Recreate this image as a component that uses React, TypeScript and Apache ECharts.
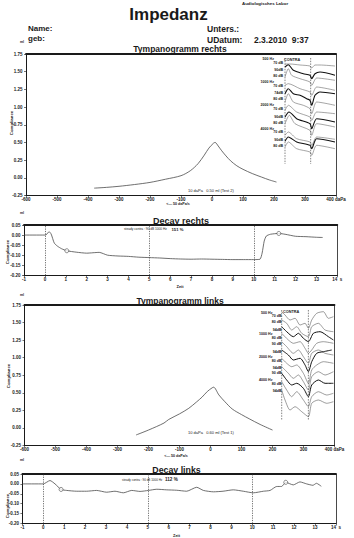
import React, { useEffect, useRef } from "react";
import * as echarts from "echarts";

// ---------- DATA ----------
// Tympanogram curves: [pressure daPa, compliance ml]
const tympRechts: [number, number][] = [
  [-380, -0.146], [-340, -0.135], [-300, -0.12], [-250, -0.095], [-200, -0.065],
  [-150, -0.02], [-100, 0.03], [-70, 0.1], [-45, 0.2], [-25, 0.32], [-10, 0.42],
  [5, 0.49], [10, 0.5], [20, 0.45], [30, 0.39], [45, 0.31], [60, 0.24], [80, 0.17],
  [100, 0.12], [130, 0.06], [160, 0.01], [185, -0.03], [208, -0.06],
];
const tympLinks: [number, number][] = [
  [-240, -0.1], [-200, -0.03], [-150, 0.07], [-135, 0.12], [-100, 0.2], [-70, 0.28],
  [-45, 0.37], [-27, 0.44], [-10, 0.52], [5, 0.57], [10, 0.58], [27, 0.47], [45, 0.38],
  [70, 0.27], [100, 0.19], [125, 0.13], [160, 0.05], [200, -0.03],
];
// Decay curves: [time s, compliance ml]
const decayRechts: [number, number][] = [
  [-1, 0], [0, 0], [0.1, 0.005], [0.2, 0.017], [0.3, 0.005], [0.45, -0.04], [0.6, -0.055],
  [0.8, -0.068], [1.05, -0.078], [1.5, -0.085], [2, -0.09], [2.3, -0.088], [2.6, -0.086],
  [3, -0.1], [3.5, -0.104], [4, -0.106], [4.5, -0.11], [5, -0.112], [5.5, -0.114],
  [6, -0.117], [6.5, -0.119], [7, -0.12], [7.5, -0.119], [8, -0.12], [8.5, -0.121],
  [9, -0.122], [9.5, -0.122], [10, -0.122], [10.3, -0.12], [10.4, -0.09], [10.5, -0.03],
  [10.6, -0.005], [10.8, 0.004], [11.2, 0.008], [11.5, 0.004], [12, -0.006],
  [12.5, -0.008], [13, -0.011], [13.3, -0.012],
];
const decayLinks: [number, number][] = [
  [-1, 0], [0, 0], [0.32, 0.017], [0.56, 0], [0.85, -0.028], [1.12, -0.033], [1.6, -0.037],
  [2.07, -0.037], [2.55, -0.033], [3.03, -0.042], [3.43, -0.037], [3.83, -0.045],
  [4.23, -0.033], [4.63, -0.038], [5.03, -0.033], [5.43, -0.027], [5.9, -0.03],
  [6.38, -0.032], [6.86, -0.037], [7.34, -0.017], [7.66, -0.033], [8.14, -0.04],
  [8.6, -0.037], [9.09, -0.03], [9.57, -0.037], [10.05, -0.045], [10.53, -0.037],
  [10.85, -0.033], [11.17, -0.013], [11.4, -0.013], [11.6, 0.008], [11.96, -0.005],
  [12.28, 0.01], [12.6, 0], [12.9, -0.007], [13.07, 0.003], [13.3, -0.012],
];
const decayRechtsMarks: [number, number][] = [[1.05, -0.078], [11.2, 0.008]];
const decayLinksMarks: [number, number][] = [[0.85, -0.028], [11.6, 0.008]];
const decayMarkerTimes = [0, 5, 10];

// Acoustic reflex traces: [time units, trace level]
const reflexRechtsTraces: [number, number][][] = [
  [[0, 12], [1.5, 12], [4.5, 13], [7.5, 14], [8, 16], [9, 13], [10.5, 13], [15, 14]],
  [[0, 15], [1, 12.7], [2.5, 18.3], [5.5, 21.7], [7.5, 23.3], [8, 26.7], [9, 21.7], [10.5, 20], [15, 23.3]],
  [[0, 25], [1, 16.7], [2, 23.3], [4.5, 26.7], [7.5, 30], [8, 33.3], [9.5, 26], [15, 28.3]],
  [[0, 33.3], [1, 31.7], [4.5, 36.7], [7.5, 40], [8, 43.3], [9.5, 35], [15, 38.3]],
  [[0, 41.7], [1, 36.7], [2.5, 41.7], [4.5, 43.3], [6.5, 46.7], [7.5, 48.3], [8, 53.3], [9, 43.3], [10.5, 40], [15, 41.7]],
  [[0, 50], [1, 41.7], [2.5, 50], [5.5, 53.3], [7.5, 56.7], [8, 61.7], [9.5, 50], [15, 53.3]],
  [[0, 58.3], [1, 53.3], [3.5, 60], [7.5, 65], [8, 68.3], [9.5, 60], [15, 61.7]],
  [[0, 65], [1.2, 60], [3.5, 66.7], [7.5, 71.7], [8, 76.7], [9.5, 66.7], [15, 70]],
  [[0, 71.7], [1.3, 63.3], [3, 71.7], [7.5, 78.3], [8, 83.3], [9.5, 71.7], [15, 75]],
  [[0, 83.3], [1, 80], [3.5, 86.7], [7.5, 90], [8, 93.3], [9.5, 85], [15, 87.3]],
  [[0, 89.3], [1, 85], [3.5, 90], [7.5, 93.3], [8, 96.7], [9.5, 86.7], [15, 90]],
  [[0, 95], [1, 90], [3.5, 96.7], [7.5, 100], [8, 103.3], [9.5, 93.3], [15, 96.7]],
];
const reflexLinksTraces: [number, number][][] = [
  [[0, 11.7], [1, 15], [2.5, 20], [4, 18.3], [5.5, 25], [7, 23.3], [8, 28.3], [9, 20], [10.5, 13.3], [12.5, 11.7], [14, 18.3], [15.5, 16.7]],
  [[0, 20], [1.5, 23.3], [3, 30], [4.5, 26.7], [6, 33.3], [8, 36.7], [9, 26.7], [11, 23.3], [13, 30], [15.5, 31.7]],
  [[0, 26.7], [1.5, 31.7], [3.5, 36.7], [5, 33.3], [6.5, 38.3], [8, 41.7], [9.5, 33.3], [11.5, 31.7], [14, 36.7], [15.5, 40]],
  [[0, 33.3], [2, 40], [3.5, 43.3], [5.5, 41.7], [7, 48.3], [8, 53.3], [9, 50], [10.5, 43.3], [12.5, 41.7], [15.5, 43.3]],
  [[0, 41.7], [1.5, 46.7], [3.5, 53.3], [5, 50], [6.5, 56.7], [8, 63.3], [9, 53.3], [11, 50], [13, 53.3], [15.5, 55]],
  [[0, 50], [2, 55], [3.5, 60], [5.5, 58.3], [7, 65], [8, 71.7], [9, 61.7], [10.5, 53.3], [12.5, 51.7], [15, 50]],
  [[0, 58.3], [1.5, 63.3], [3, 66.7], [4.5, 65], [6.5, 73.3], [8, 83.3], [9, 70], [10.5, 65], [12.5, 61.7], [15.5, 63.3]],
  [[0, 66.7], [2, 73.3], [3.5, 78.3], [5, 75], [6.5, 81.7], [8, 90], [9, 76.7], [11, 71.7], [13, 75], [15.5, 71.7]],
  [[0, 73.3], [1.5, 80], [3, 85], [4.5, 83.3], [6.5, 88.3], [8, 96.7], [9, 85], [11, 80], [13, 83.3], [15.5, 83.3]],
  [[0, 81.7], [1.5, 90], [3, 96.7], [4.5, 91.7], [6.5, 100], [8, 106.7], [9, 96.7], [11, 91.7], [13.5, 95], [15.5, 93.3]],
  [[0, 90], [1, 100], [2.5, 110], [4, 106.7], [6, 111.7], [8, 116.7], [9, 103.3], [11, 100], [13.5, 103.3], [15.5, 101.7]],
];
const reflexRechtsStim = [0, 7.7];
const reflexLinksStim = [0, 8];

const reflexRechtsLabels = ["500 Hz", "70 dB", "90dB", "80 dB", "1000 Hz", "70 dB", "74dB", "80 dB",
  "2000 Hz", "70 dB", "90dB", "80 dB", "4000 Hz", "70 dB", "90dB", "80 dB"];
const reflexLinksLabels = ["500 Hz", "70 dB", "80 dB", "94dB", "1000 Hz", "80 dB", "90 dB", "94dB",
  "2000 Hz", "80 dB", "94dB", "90 dB", "4000 Hz", "80 dB", "94dB"];

// ---------- LAYOUT ----------
const FONT = '"Liberation Sans", Arial, Helvetica, sans-serif';
const INK = "#1a1a1a";
const CURVE = "#4a4a4a";
const reflexRechtsLabelY = [59, 63, 70, 76, 82, 86, 93, 99, 105, 109, 117, 122.5, 129, 132, 140, 146];
const reflexLinksLabelY = [312.5, 316, 322, 329.5, 334, 337.5, 343.5, 351.5, 357, 360.5, 368, 373, 380, 383.5, 390.5];
const boldRechts = [1, 4, 7, 10];
const boldLinks = [2, 5, 8];

function fmt2(v: number) {
  const r = Math.round(v * 100) / 100;
  return (Math.abs(r) < 1e-9 ? 0 : r).toFixed(2);
}

export default function App() {
  const ref = useRef<HTMLDivElement>(null);
  useEffect(() => {
    document.body.style.margin = "0";
    if (!ref.current) return;
    const chart = echarts.init(ref.current, undefined, { renderer: "svg" });

    const grids = [
      { left: 26, top: 54, width: 310, height: 141.5 },
      { left: 285, top: 52, width: 50, height: 120 },
      { left: 24, top: 225, width: 313.3, height: 50.3 },
      { left: 24.5, top: 305, width: 310, height: 140.5 },
      { left: 281.7, top: 300, width: 51.7, height: 120 },
      { left: 22.4, top: 474, width: 313.5, height: 49.5 },
    ];

    const lbl = { fontSize: 4.5, fontWeight: "bold" as const, color: INK, fontFamily: FONT };
    const bottomX = (g: number, min: number, max: number, interval: number, last: string) => ({
      gridIndex: g, type: "value", min, max, interval, position: "bottom",
      axisLine: { show: true, onZero: false, lineStyle: { color: INK, width: 1 } },
      axisTick: { show: true, length: 2, lineStyle: { color: INK, width: 0.6 } },
      axisLabel: { ...lbl, margin: 1.5, showMaxLabel: true, formatter: (v: number) => (Math.abs(v - max) < 1e-9 ? last : String(v)) },
      splitLine: { show: false },
    });
    const topX = (g: number, min: number, max: number) => ({
      gridIndex: g, type: "value", min, max, position: "top",
      axisLine: { show: true, onZero: false, lineStyle: { color: INK, width: 1.8 } },
      axisTick: { show: false }, axisLabel: { show: false }, splitLine: { show: false },
    });
    const leftY = (g: number, min: number, max: number, interval: number) => ({
      gridIndex: g, type: "value", min, max, interval, position: "left",
      axisLine: { show: true, onZero: false, lineStyle: { color: INK, width: 1 } },
      axisTick: { show: true, length: 2, lineStyle: { color: INK, width: 0.6 } },
      axisLabel: { ...lbl, margin: 3.5, formatter: (v: number) => fmt2(v) },
      splitLine: { show: false },
    });
    const rightY = (g: number, min: number, max: number) => ({
      gridIndex: g, type: "value", min, max, position: "right",
      axisLine: { show: true, onZero: false, lineStyle: { color: INK, width: 0.8 } },
      axisTick: { show: false }, axisLabel: { show: false }, splitLine: { show: false },
    });
    const hiddenX = (g: number, max: number) => ({ gridIndex: g, type: "value", min: 0, max, show: false });
    const hiddenY = (g: number) => ({ gridIndex: g, type: "value", min: 0, max: 120, inverse: true, show: false });

    const xAxis = [
      bottomX(0, -600, 400, 100, "400 daPa"), topX(0, -600, 400),
      hiddenX(1, 15),
      bottomX(2, -1, 14, 1, "14  s"), topX(2, -1, 14),
      bottomX(3, -600, 400, 100, "400 daPa"), topX(3, -600, 400),
      hiddenX(4, 15.5),
      bottomX(5, -1, 14, 1, "14  s"), topX(5, -1, 14),
    ];
    const yAxis = [
      leftY(0, -0.25, 1.75, 0.25), rightY(0, -0.25, 1.75),
      hiddenY(1),
      leftY(2, -0.2, 0.05, 0.05), rightY(2, -0.2, 0.05),
      leftY(3, -0.25, 1.75, 0.25), rightY(3, -0.25, 1.75),
      hiddenY(4),
      leftY(5, -0.2, 0.05, 0.05), rightY(5, -0.2, 0.05),
    ];

    const series: any[] = [];
    const curve = (data: [number, number][], ax: number, smooth: number | boolean = 0.3) => ({
      type: "line", xAxisIndex: ax, yAxisIndex: ax, data, showSymbol: false, smooth,
      lineStyle: { color: CURVE, width: 0.8 }, silent: true, z: 3,
    });
    series.push(curve(tympRechts, 0));
    series.push(curve(tympLinks, 5));
    const decaySeries = (data: [number, number][], ax: number) => ({
      ...curve(data, ax, 0.2),
      markLine: {
        silent: true, symbol: "none", label: { show: false },
        lineStyle: { color: "#333", type: [1.2, 1.2], width: 0.7 },
        data: decayMarkerTimes.map((t) => ({ xAxis: t })),
      },
    });
    series.push(decaySeries(decayRechts, 3));
    series.push(decaySeries(decayLinks, 8));
    const markers = (data: [number, number][], ax: number) => ({
      type: "scatter", xAxisIndex: ax, yAxisIndex: ax, data, symbol: "circle", symbolSize: 4,
      itemStyle: { color: "#fff", borderColor: "#333", borderWidth: 0.7 }, silent: true, z: 4,
    });
    series.push(markers(decayRechtsMarks, 3));
    series.push(markers(decayLinksMarks, 8));

    reflexRechtsTraces.forEach((tr, i) => {
      const b = boldRechts.includes(i);
      series.push({
        type: "line", xAxisIndex: 2, yAxisIndex: 2, data: tr, showSymbol: false, smooth: 0.25, silent: true,
        lineStyle: { color: b ? "#111" : "#6a6a6a", width: b ? 1.1 : 0.6 },
      });
    });
    reflexLinksTraces.forEach((tr, i) => {
      const b = boldLinks.includes(i);
      series.push({
        type: "line", xAxisIndex: 7, yAxisIndex: 7, data: tr, showSymbol: false, smooth: 0.25, silent: true,
        lineStyle: { color: b ? "#111" : "#5a5a5a", width: b ? 1.0 : 0.6 },
      });
    });
    const stimLine = (t: number, ax: number, y0: number, y1: number) => ({
      type: "line", xAxisIndex: ax, yAxisIndex: ax, data: [[t, y0], [t, y1]], showSymbol: false, silent: true,
      lineStyle: { color: "#333", width: 0.6, type: [1.5, 1.2] },
    });
    reflexRechtsStim.forEach((t) => series.push(stimLine(t, 2, 6, 112)));
    reflexLinksStim.forEach((t) => series.push(stimLine(t, 7, 10, 120)));

    const txt = (text: string, x: number, y: number, size: number, opt: any = {}) => ({
      type: "text", x, y, rotation: opt.rotation || 0, z: 10, silent: true,
      style: {
        text, fontSize: size, fontWeight: opt.weight || "bold", fontFamily: FONT, fill: opt.fill || INK,
        textAlign: opt.align || "left", textVerticalAlign: "middle",
      },
    });
    const graphic: any[] = [
      txt("Audiologisches Labor", 242, 3.5, 4.4),
      txt("Impedanz", 168.5, 14, 17, { align: "center" }),
      txt("Name:", 28, 28.5, 8),
      txt("geb:", 28, 38, 8),
      txt("Unters.:", 207, 29, 8.5),
      txt("UDatum:", 207, 39.5, 8.5),
      txt("2.3.2010  9:37", 254, 39.5, 8.5),
      txt("Tympanogramm rechts", 180, 49, 8.5, { align: "center" }),
      txt("Decay rechts", 181, 220.5, 9, { align: "center" }),
      txt("Tympanogramm links", 180, 300.5, 8.5, { align: "center" }),
      txt("Decay links", 176.5, 470, 8.8, { align: "center" }),
      txt("ml", 20, 42, 3.5),
      txt("ml", 20, 212.5, 3.5),
      txt("ml", 20, 295, 3.5),
      txt("ml", 20, 460, 3.5),
      txt("Compliance", 11, 123, 4.3, { align: "center", rotation: Math.PI / 2 }),
      txt("Compliance", 7.5, 252, 4.3, { align: "center", rotation: Math.PI / 2 }),
      txt("Compliance", 8.5, 376, 4.3, { align: "center", rotation: Math.PI / 2 }),
      txt("Compliance", 7.5, 506, 4.3, { align: "center", rotation: Math.PI / 2 }),
      txt("<— 50 daPa/s", 178, 203.5, 3.6, { align: "center" }),
      txt("<— 50 daPa/s", 176, 455.5, 3.6, { align: "center" }),
      txt("Zeit", 180, 286.5, 4, { align: "center" }),
      txt("Zeit", 176.5, 535, 4, { align: "center" }),
      txt("10 daPa   0.50 ml (Test 2)", 188, 190.5, 4, { weight: "normal" }),
      txt("10 daPa   0.60 ml (Test 1)", 188, 432, 4, { weight: "normal" }),
      txt("steady contra : 90 dB 1000 Hz", 124, 229, 3.2, { weight: "normal" }),
      txt("151 %", 171.5, 229, 4.2),
      txt("steady contra : 90 dB 1000 Hz", 122, 479.5, 3, { weight: "normal" }),
      txt("112 %", 165, 479.5, 4.6),
      txt("CONTRA", 284, 60, 3.8),
      txt("CONTRA", 283, 311.5, 3.8),
    ];
    reflexRechtsLabels.forEach((s, i) => {
      const hz = s.includes("Hz");
      graphic.push(txt(s, hz ? 274 : 283, reflexRechtsLabelY[i], 3.6, { align: "right" }));
    });
    reflexLinksLabels.forEach((s, i) => {
      const hz = s.includes("Hz");
      graphic.push(txt(s, hz ? 272.5 : 281.5, reflexLinksLabelY[i], 3.6, { align: "right" }));
    });

    chart.setOption({
      animation: false,
      backgroundColor: "#ffffff",
      grid: grids,
      xAxis,
      yAxis,
      series,
      graphic,
    });
    return () => chart.dispose();
  }, []);
  return <div ref={ref} style={{ width: 354, height: 538 }} />;
}
